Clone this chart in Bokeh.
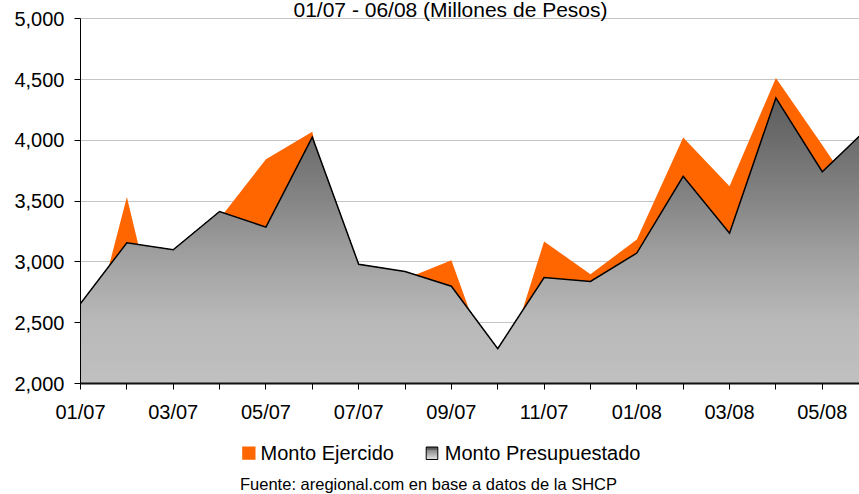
import numpy as np
from bokeh.plotting import figure
from bokeh.layouts import column
from bokeh.models import Range1d, FixedTicker, NumeralTickFormatter
from bokeh.core.properties import value
from bokeh.embed import file_html
from bokeh.resources import INLINE

# ---------------- data ----------------
months = ["01/07", "02/07", "03/07", "04/07", "05/07", "06/07", "07/07", "08/07",
          "09/07", "10/07", "11/07", "12/07", "01/08", "02/08", "03/08", "04/08",
          "05/08", "06/08"]
monto_presupuestado = [2657, 3158, 3100, 3415, 3286, 4026, 2981, 2922, 2800,
                       2287, 2872, 2840, 3073, 3704, 3236, 4349, 3742, 4107]
monto_ejercido = [2065, 3534, 1950, 3356, 3845, 4070, 2250, 2860, 3013,
                  1955, 3169, 2898, 3184, 4023, 3622, 4514, 3962, 3400]
y_ticks = [2000, 2500, 3000, 3500, 4000, 4500, 5000]
series_names = ["Monto Ejercido", "Monto Presupuestado"]
title_text = "01/07 - 06/08 (Millones de Pesos)"
source_text = "Fuente: aregional.com en base a datos de la SHCP"

FONT = "Liberation Sans"
ORANGE = "#FF6600"

# ---------------- main chart ----------------
W = 859
HM = 430          # main figure height
FL = 80           # frame left
FB = 383          # frame bottom (px from top)
PX_X = 46.36      # px per month
Y_TOP = 2000 + 3000 * FB / (FB - 18.3)   # frame reaches the top of the canvas
X_END = (W - FL) / PX_X

p = figure(width=W, height=HM, output_backend="svg", toolbar_location=None,
           x_range=Range1d(0, X_END), y_range=Range1d(2000, Y_TOP),
           min_border_left=FL, min_border_top=0, min_border_right=0,
           min_border_bottom=HM - FB)
p.outline_line_color = None
p.background_fill_color = "white"
p.border_fill_color = "white"

idx = np.arange(len(months), dtype=float)
pres = np.array(monto_presupuestado, dtype=float)
ejer = np.array(monto_ejercido, dtype=float)

# orange area (behind)
p.varea(x=idx, y1=1000, y2=ejer, fill_color=ORANGE)

# gray gradient area: stacked horizontal bands clipped to the series outline
levels = np.linspace(2000, 4400, 121)
xs = list(idx)
for i in range(len(idx) - 1):
    a, b = pres[i], pres[i + 1]
    for L in levels:
        if (L - a) * (L - b) < 0:
            xs.append(i + (L - a) / (b - a))
xs = np.unique(np.array(xs))
ys = np.interp(xs, idx, pres)

stop_v = [2000, 2500, 3000, 3500, 4000, 4400]
stop_c = [0xc0, 0xb9, 0xa3, 0x86, 0x6c, 0x5c]
for k in range(len(levels) - 1, 0, -1):
    mid = (levels[k] + levels[k - 1]) / 2
    g = int(round(np.interp(mid, stop_v, stop_c)))
    p.varea(x=xs, y1=1000, y2=np.minimum(ys, levels[k]),
            fill_color="#%02x%02x%02x" % (g, g, g))

p.line(x=idx, y=pres, line_color="black", line_width=1.5, line_join="miter")

# title at the very top
def y_at(py):
    return 2000 + (FB - py) * (Y_TOP - 2000) / FB

p.text(x=[(450 - FL) / PX_X], y=[y_at(9.0)], text=[title_text],
       text_align="center", text_baseline="alphabetic",
       text_font=value(FONT), text_font_size=value("21px"), text_color="black")

# axes
p.xgrid.visible = False
p.ygrid.ticker = FixedTicker(ticks=y_ticks)
p.ygrid.grid_line_color = "#c4c4c4"
p.ygrid.grid_line_width = 1

p.yaxis.ticker = FixedTicker(ticks=y_ticks)
p.yaxis.bounds = (2000, 5000)
p.yaxis.formatter = NumeralTickFormatter(format="0,0")
p.yaxis.axis_line_color = "black"
p.yaxis.axis_line_width = 1
p.yaxis.major_tick_out = 6
p.yaxis.major_tick_in = 0
p.yaxis.major_tick_line_color = "black"
p.yaxis.minor_tick_line_color = None
p.yaxis.major_label_standoff = 10
p.yaxis.major_label_text_font = FONT
p.yaxis.major_label_text_font_size = "20px"
p.yaxis.major_label_text_color = "black"

p.xaxis.ticker = FixedTicker(ticks=list(range(len(months))))
p.xaxis.major_label_overrides = {i: (months[i] if i % 2 == 0 else "")
                                 for i in range(len(months))}
p.xaxis.axis_line_color = "#111111"
p.xaxis.axis_line_width = 2
p.xaxis.major_tick_out = 6
p.xaxis.major_tick_in = 0
p.xaxis.major_tick_line_color = "black"
p.xaxis.minor_tick_line_color = None
p.xaxis.major_label_standoff = 11
p.xaxis.major_label_text_font = FONT
p.xaxis.major_label_text_font_size = "20px"
p.xaxis.major_label_text_color = "black"

# ---------------- legend + source strip (x in page pixels) ----------------
HL = 494 - HM
q = figure(width=W, height=HL, output_backend="svg", toolbar_location=None,
           x_range=Range1d(FL, W), y_range=Range1d(HL, 0),
           x_axis_type=None, y_axis_type=None,
           min_border_left=FL, min_border_right=0, min_border_top=0,
           min_border_bottom=0)
q.outline_line_color = None
q.xgrid.visible = False
q.ygrid.visible = False
q.background_fill_color = "white"
q.border_fill_color = "white"

# legend keys
q.quad(left=[241.7], right=[255], top=[16], bottom=[29.3],
       fill_color=ORANGE, line_color=None)
n_strips = 12
edges = np.linspace(16.5, 29, n_strips + 1)
shades = np.linspace(0x50, 0xd2, n_strips)
q.quad(left=[425.7] * n_strips, right=[437.3] * n_strips,
       top=list(edges[:-1]), bottom=list(edges[1:]),
       fill_color=["#%02x%02x%02x" % (int(s), int(s), int(s)) for s in shades],
       line_color=None)
q.quad(left=[425.7], right=[437.3], top=[16.5], bottom=[29],
       fill_color=None, line_color="black", line_width=1)

q.text(x=[260, 444.3], y=[22.8, 22.8], text=series_names,
       text_align="left", text_baseline="middle",
       text_font=value(FONT), text_font_size=value("20px"), text_color="black")
q.text(x=[428], y=[53], text=[source_text],
       text_align="center", text_baseline="middle",
       text_font=value(FONT), text_font_size=value("16.5px"), text_color="black")

layout = column(p, q, spacing=0)
open("out.html", "w").write(file_html(layout, INLINE))
